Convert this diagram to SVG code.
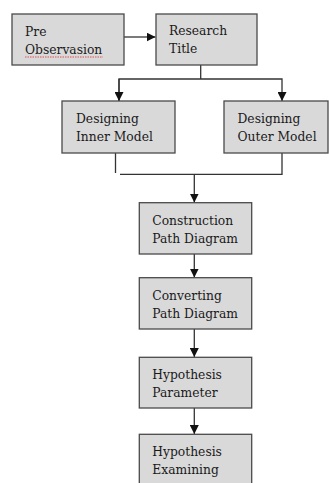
<svg xmlns="http://www.w3.org/2000/svg" width="329" height="483" viewBox="0 0 329 483">
<style>
.box{fill:#d9d9d9;stroke:#4a4a4a;stroke-width:1.3}
.t{font-family:"DejaVu Serif","Liberation Serif",serif;font-size:12.3px;fill:#1a1a1a}
.ln{fill:none;stroke:#333;stroke-width:1.3}
</style>
<defs>
<marker id="ah" markerWidth="9" markerHeight="9" refX="9" refY="4.5" orient="auto" markerUnits="userSpaceOnUse">
<path d="M0,0 L9,4.5 L0,9 Z" fill="#111"/>
</marker>
</defs>
<rect width="329" height="483" fill="#fff"/>
<g id="connectors">
<line class="ln" x1="124" y1="37" x2="155.5" y2="37" marker-end="url(#ah)"/>
<polyline class="ln" points="200.7,65 200.7,79"/>
<polyline class="ln" points="119,101 119,79 282,79 282,101" marker-end="url(#ah)"/>
<line class="ln" x1="119" y1="79" x2="119" y2="101" marker-end="url(#ah)"/>
<line class="ln" x1="115.5" y1="153" x2="115.5" y2="173"/>
<polyline class="ln" points="282,153 282,174.3 120,174.3"/>
<line class="ln" x1="194.3" y1="174.3" x2="194.3" y2="202.5" marker-end="url(#ah)"/>
<line class="ln" x1="194.3" y1="254" x2="194.3" y2="277.5" marker-end="url(#ah)"/>
<line class="ln" x1="194.3" y1="329" x2="194.3" y2="357" marker-end="url(#ah)"/>
<line class="ln" x1="194.3" y1="408" x2="194.3" y2="434" marker-end="url(#ah)"/>
</g>
<g id="pre-observation">
<rect class="box" x="12" y="14" width="112" height="51"/>
<text class="t" x="25" y="36">Pre</text>
<text class="t" x="25" y="54">Observasion</text>
<line x1="25" y1="57" x2="103" y2="57" stroke="#e05050" stroke-width="1" stroke-dasharray="1.5,1"/>
</g>
<g id="research-title">
<rect class="box" x="156" y="14" width="101" height="51"/>
<text class="t" x="169" y="35">Research</text>
<text class="t" x="169" y="53">Title</text>
</g>
<g id="inner-model">
<rect class="box" x="62" y="101" width="113" height="52"/>
<text class="t" x="76" y="123">Designing</text>
<text class="t" x="76" y="141">Inner Model</text>
</g>
<g id="outer-model">
<rect class="box" x="224" y="101" width="104" height="52"/>
<text class="t" x="237.5" y="123">Designing</text>
<text class="t" x="237.5" y="141">Outer Model</text>
</g>
<g id="construction">
<rect class="box" x="139.3" y="202.7" width="112.4" height="51.3"/>
<text class="t" x="152.3" y="225">Construction</text>
<text class="t" x="152.3" y="243">Path Diagram</text>
</g>
<g id="converting">
<rect class="box" x="139.3" y="277.7" width="112.4" height="51.3"/>
<text class="t" x="152.3" y="300">Converting</text>
<text class="t" x="152.3" y="318">Path Diagram</text>
</g>
<g id="hypothesis-parameter">
<rect class="box" x="139.3" y="357.3" width="112.4" height="50.7"/>
<text class="t" x="152.3" y="379">Hypothesis</text>
<text class="t" x="152.3" y="397">Parameter</text>
</g>
<g id="hypothesis-examining">
<rect class="box" x="139.3" y="434.3" width="112.4" height="55"/>
<text class="t" x="152.3" y="456">Hypothesis</text>
<text class="t" x="152.3" y="474">Examining</text>
</g>
</svg>
